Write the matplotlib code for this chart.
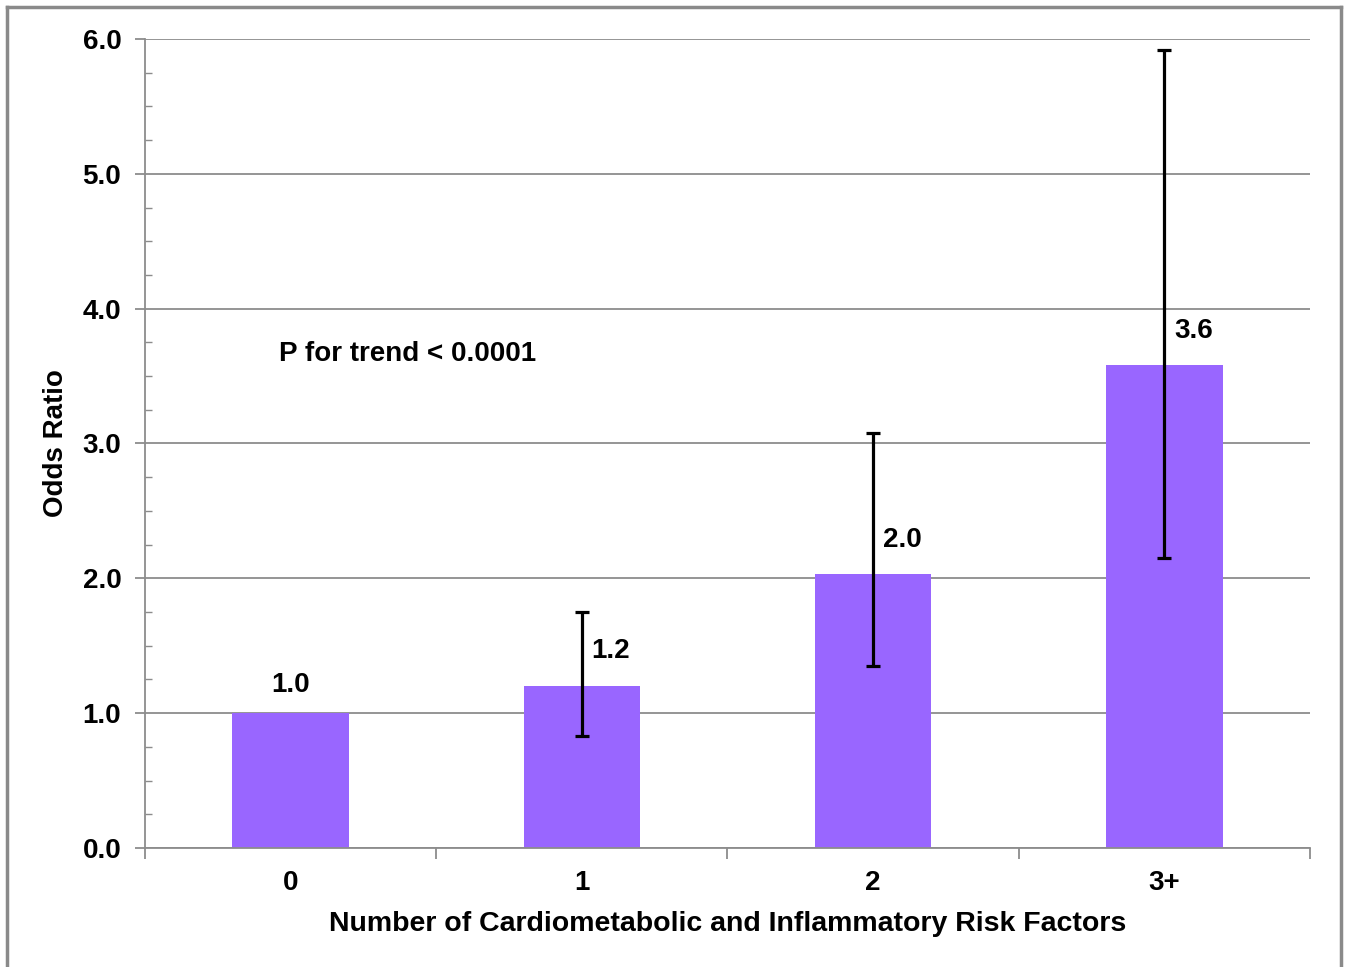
import matplotlib
matplotlib.use("Agg")
import matplotlib.pyplot as plt
from matplotlib.lines import Line2D
from matplotlib.ticker import MultipleLocator, FormatStrFormatter

plt.rcParams['font.family'] = ['Liberation Sans', 'DejaVu Sans']

categories = ['0', '1', '2', '3+']
odds = [1.0, 1.2, 2.03, 3.58]
odds_labels = ['1.0', '1.2', '2.0', '3.6']
ci_low = [None, 0.83, 1.35, 2.15]
ci_high = [None, 1.75, 3.08, 5.92]

fig = plt.figure(figsize=(13.47, 9.67), dpi=100)
ax = fig.add_axes([0.1076, 0.1231, 0.8649, 0.8366])

x = list(range(len(categories)))
ax.bar(x, odds, width=0.4, color='#9966ff', zorder=2)

# error bars only where a CI exists
for i in x:
    if ci_low[i] is None:
        continue
    ax.errorbar(i, odds[i], yerr=[[odds[i] - ci_low[i]], [ci_high[i] - odds[i]]],
                fmt='none', ecolor='black', elinewidth=2.3, capsize=5,
                capthick=2.3, zorder=3)

# value labels, shifted right when an error bar is in the way
for i in x:
    if ci_low[i] is None:
        dx, dy = 0, 20
    else:
        dx, dy = 21, 25
    ax.annotate(odds_labels[i], (i, odds[i]), xytext=(dx, dy),
                textcoords='offset points', ha='center', va='center',
                fontsize=20, fontweight='bold')

ax.text(-0.04, 3.66, 'P for trend < 0.0001', fontsize=20, fontweight='bold',
        va='center', ha='left')

ax.set_xlim(-0.5, 3.5)
ax.set_ylim(0, 6)
ax.yaxis.set_major_locator(MultipleLocator(1.0))
ax.yaxis.set_minor_locator(MultipleLocator(0.25))
ax.yaxis.set_major_formatter(FormatStrFormatter('%.1f'))
ax.grid(axis='y', which='major', color='#8c8c8c', linewidth=1.3, zorder=0)
ax.set_axisbelow(True)

ax.set_xticks([-0.5, 0.5, 1.5, 2.5, 3.5])
ax.set_xticklabels([])
ax.set_xticks(x, minor=True)
ax.set_xticklabels(categories, minor=True)
ax.tick_params(axis='x', which='minor', length=0, pad=16, labelsize=20)
ax.tick_params(axis='x', which='major', length=8, color='#8c8c8c', width=1.3)
ax.tick_params(axis='y', which='major', length=7, color='#8c8c8c', width=1.3,
               labelsize=20, pad=10)
ax.tick_params(axis='y', which='minor', direction='in', length=5,
               color='#8c8c8c', width=1.0)
for lab in ax.get_xticklabels(minor=True) + ax.get_yticklabels():
    lab.set_fontweight('bold')

for s in ['top', 'right']:
    ax.spines[s].set_visible(False)
for s in ['left', 'bottom']:
    ax.spines[s].set_color('#8c8c8c')
    ax.spines[s].set_linewidth(1.3)

ax.set_xlabel('Number of Cardiometabolic and Inflammatory Risk Factors',
              fontsize=20.5, fontweight='bold', labelpad=11)
ax.set_ylabel('Odds Ratio', fontsize=20, fontweight='bold', labelpad=10)

# outer frame
frame_col = '#8a8a8a'
l, r, t = 7 / 1347, 1341 / 1347, 1 - 7 / 967
fig.add_artist(Line2D([l, l], [0, t], transform=fig.transFigure, color=frame_col, lw=2.5))
fig.add_artist(Line2D([l, r], [t, t], transform=fig.transFigure, color=frame_col, lw=2.5))
fig.add_artist(Line2D([r, r], [0, t], transform=fig.transFigure, color=frame_col, lw=2.5))

fig.savefig('out.png', dpi=100)
